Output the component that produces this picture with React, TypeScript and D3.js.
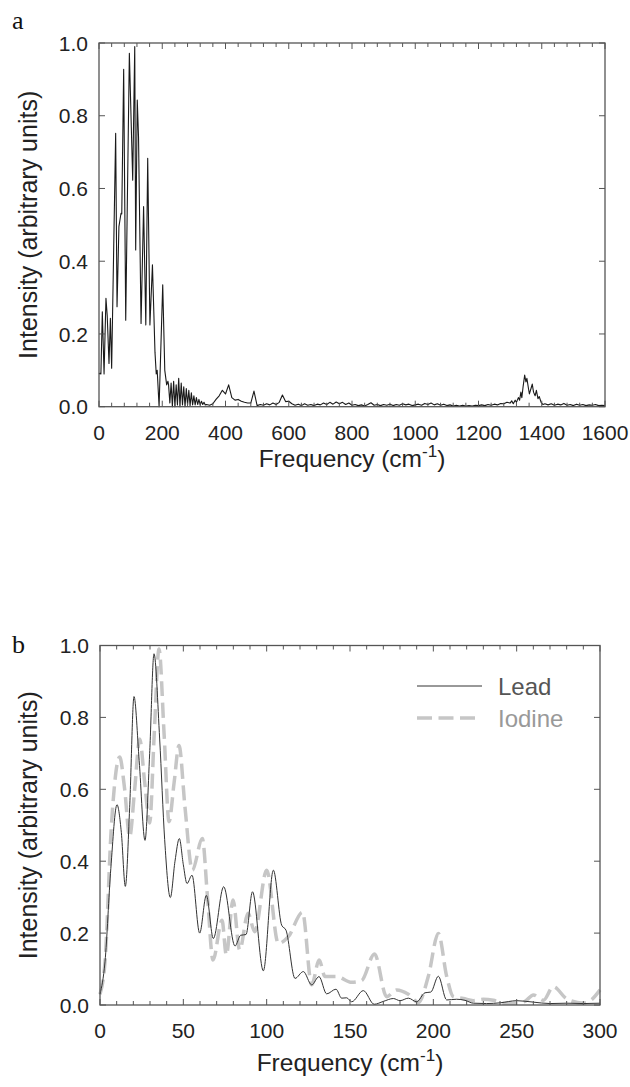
import React from "react";
import * as d3 from "d3";

// ---------- Panel a data (frequency cm-1, intensity) ----------
const specLowA: [number, number][] = [
  [0, 0.09], [3, 0.092], [6, 0.09], [10.5, 0.261], [16, 0.09], [22, 0.298], [26, 0.25],
  [31.6, 0.119], [36, 0.243], [40, 0.106], [52.7, 0.752], [57, 0.275], [63, 0.495],
  [69.6, 0.532], [72, 0.53], [78, 0.928], [84.5, 0.238], [96, 0.972], [106.6, 0.623],
  [113, 0.99], [116, 0.431], [121, 0.843], [125, 0.74], [133, 0.229], [141, 0.55],
  [148, 0.225], [154, 0.683], [161, 0.225], [169, 0.39], [177, 0.15], [181, 0.09],
  [184, 0.1], [190, 0.0], [201.5, 0.335], [208, 0.1], [214, 0.06], [218, 0.07],
];
const rippleStartA = 220;
const rippleStepA = 4;
const rippleA = [
  0.06, 0.01, 0.065, 0.0, 0.07, 0.0, 0.06, 0.005, 0.078, 0.0,
  0.065, 0.005, 0.055, 0.0, 0.05, 0.005, 0.045, 0.003, 0.038, 0.005,
  0.03, 0.005, 0.025, 0.006, 0.02, 0.005, 0.015, 0.006, 0.012, 0.005,
];
const baseStartA = 340;
const baseStepA = 10;
const baselineA = [
  // 340..430
  0.006, 0.004, 0.008, 0.02, 0.03, 0.045, 0.035, 0.06, 0.025, 0.018,
  // 440..530
  0.02, 0.015, 0.012, 0.01, 0.01, 0.043, 0.003, 0.006, 0.004, 0.008,
  // 540..630
  0.005, 0.01, 0.006, 0.012, 0.032, 0.014, 0.015, 0.008, 0.004, 0.007,
  // 640..730
  0.003, 0.008, 0.004, 0.006, 0.003, 0.007, 0.005, 0.01, 0.006, 0.012,
  // 740..830
  0.007, 0.013, 0.008, 0.012, 0.006, 0.01, 0.004, 0.006, 0.003, 0.005,
  // 840..930
  0.002, 0.006, 0.011, 0.004, 0.006, 0.003, 0.006, 0.004, 0.007, 0.003,
  // 940..1030
  0.006, 0.004, 0.008, 0.005, 0.007, 0.003, 0.005, 0.007, 0.004, 0.009,
  // 1040..1130
  0.006, 0.01, 0.005, 0.008, 0.004, 0.007, 0.003, 0.005, 0.002, 0.004,
  // 1140..1230
  0.002, 0.004, 0.002, 0.003, 0.002, 0.004, 0.003, 0.005, 0.003, 0.006,
  // 1240..1290
  0.004, 0.007, 0.005, 0.009, 0.008, 0.012,
];
const peakA: [number, number][] = [
  [1300, 0.01], [1305, 0.016], [1310, 0.008], [1316, 0.018], [1320, 0.012], [1326, 0.025],
  [1330, 0.018], [1334, 0.04], [1337, 0.025], [1341, 0.055], [1346, 0.087], [1350, 0.068],
  [1353, 0.078], [1358, 0.05], [1361, 0.035], [1366, 0.05], [1370, 0.062], [1374, 0.04],
  [1379, 0.03], [1383, 0.045], [1388, 0.022], [1392, 0.028], [1398, 0.012], [1404, 0.006],
  [1410, 0.008],
];
const tailStartA = 1420;
const tailStepA = 10;
const tailA = [
  0.005, 0.008, 0.004, 0.007, 0.005, 0.009, 0.004, 0.006, 0.003, 0.007,
  0.004, 0.006, 0.003, 0.005, 0.004, 0.006, 0.003, 0.004, 0.003,
];

// ---------- Panel b data ----------
const leadB: [number, number][] = [
  [0, 0.03], [3, 0.12], [6.5, 0.38], [10.2, 0.557], [12.8, 0.48], [15.2, 0.33], [17.8, 0.55],
  [20.4, 0.858], [23.5, 0.68], [27, 0.458], [29.8, 0.7], [32.4, 0.977], [35.8, 0.74],
  [38.8, 0.46], [42.2, 0.299], [45, 0.4], [47.6, 0.463], [50, 0.39], [52.2, 0.338],
  [55.2, 0.361], [59.8, 0.2], [63.8, 0.305], [68, 0.185], [74.2, 0.329], [81, 0.164],
  [84.4, 0.194], [87.6, 0.196], [91.5, 0.315], [98, 0.095], [104, 0.375], [109, 0.222],
  [111.6, 0.208], [117, 0.074], [122, 0.093], [127, 0.056], [131.4, 0.079], [136, 0.031],
  [141.6, 0.044], [145, 0.019], [148, 0.02], [151, 0.009], [158, 0.04], [164.5, 0.002],
  [170, 0.01], [176, 0.018], [180, 0.012], [185, 0.019], [190, 0.009], [195, 0.034],
  [198.5, 0.036], [203, 0.08], [208, 0.014], [214, 0.016], [219, 0.013], [224, 0.005],
  [232, 0.004], [240, 0.006], [250, 0.012], [260, 0.008], [270, 0.004], [280, 0.005],
  [290, 0.004], [300, 0.005],
];
const iodineB: [number, number][] = [
  [0, 0.03], [3, 0.12], [6.8, 0.495], [11.8, 0.69], [14.8, 0.6], [17.8, 0.468], [20.8, 0.6],
  [23.8, 0.74], [26.8, 0.62], [29.8, 0.506], [32.5, 0.75], [35.4, 0.99], [38.5, 0.75],
  [41.4, 0.51], [44.5, 0.62], [47.4, 0.722], [51, 0.55], [55.4, 0.375], [61.4, 0.463],
  [64.5, 0.3], [67.8, 0.125], [73.2, 0.236], [75.8, 0.139], [79.8, 0.292], [83.8, 0.153],
  [88.8, 0.255], [92.8, 0.204], [100, 0.375], [107, 0.171], [113, 0.19], [121.5, 0.258],
  [127, 0.056], [131.5, 0.125], [135, 0.079], [142, 0.079], [151, 0.063], [157, 0.068],
  [164.7, 0.142], [172, 0.023], [178, 0.042], [185, 0.03], [191, 0.007], [197, 0.08],
  [203, 0.199], [208, 0.08], [212, 0.023], [218, 0.018], [224, 0.012], [230, 0.016],
  [236, 0.013], [242, 0.005], [250, 0.005], [255, 0.01], [260, 0.028], [266, 0.013],
  [272, 0.051], [280, 0.017], [290, 0.005], [295, 0.015], [300, 0.042],
];

const yTicks = [0, 0.2, 0.4, 0.6, 0.8, 1.0];
const xTicksA = [0, 200, 400, 600, 800, 1000, 1200, 1400, 1600];
const xTicksB = [0, 50, 100, 150, 200, 250, 300];
const legendLabels = ["Lead", "Iodine"];

const FONT = "'Liberation Sans', Arial, Helvetica, sans-serif";
const AXIS_COLOR = "#555";

function buildSpectrumA(): [number, number][] {
  const pts: [number, number][] = [...specLowA];
  rippleA.forEach((v, i) => pts.push([rippleStartA + i * rippleStepA, v]));
  baselineA.forEach((v, i) => pts.push([baseStartA + i * baseStepA, v]));
  peakA.forEach((p) => pts.push(p));
  tailA.forEach((v, i) => pts.push([tailStartA + i * tailStepA, v]));
  return pts;
}

type FrameProps = {
  x: d3.ScaleLinear<number, number>;
  y: d3.ScaleLinear<number, number>;
  xTicks: number[];
  minorStep: number;
  label: string;
  labelY: number;
  titleY: number;
};

function Frame({ x, y, xTicks, minorStep, label, labelY, titleY }: FrameProps) {
  const [x0, x1] = x.range();
  const [y0, y1] = y.range(); // y0 bottom, y1 top
  const [d0, d1] = x.domain();
  const minors = d3.range(d0, d1 + minorStep / 2, minorStep);
  const midY = (y0 + y1) / 2;
  const midX = (x0 + x1) / 2;
  return (
    <g>
      <rect x={x0} y={y1} width={x1 - x0} height={y0 - y1} fill="none" stroke={AXIS_COLOR} strokeWidth={1.3} />
      {minors.map((t, i) => {
        const major = xTicks.some((m) => Math.abs(m - t) < 1e-6);
        const len = major ? 6 : 4;
        return (
          <g key={"mx" + i}>
            <line x1={x(t)} x2={x(t)} y1={y0} y2={y0 - len} stroke={AXIS_COLOR} strokeWidth={1} />
            <line x1={x(t)} x2={x(t)} y1={y1} y2={y1 + len} stroke={AXIS_COLOR} strokeWidth={1} />
          </g>
        );
      })}
      {yTicks.map((t, i) => (
        <g key={"yt" + i}>
          <line x1={x0} x2={x0 + 6} y1={y(t)} y2={y(t)} stroke={AXIS_COLOR} strokeWidth={1} />
          <line x1={x1} x2={x1 - 6} y1={y(t)} y2={y(t)} stroke={AXIS_COLOR} strokeWidth={1} />
          <text x={x0 - 11} y={y(t)} dy="0.36em" textAnchor="end" fontSize={21} fontFamily={FONT} fill="#222">
            {t.toFixed(1)}
          </text>
        </g>
      ))}
      {xTicks.map((t, i) => (
        <text key={"xt" + i} x={x(t)} y={y0 + 33} textAnchor="middle" fontSize={21} fontFamily={FONT} fill="#222">
          {t}
        </text>
      ))}
      <text transform={`translate(37,${midY}) rotate(-90)`} textAnchor="middle" fontSize={25} fontFamily={FONT} fill="#222">
        Intensity (arbitrary units)
      </text>
      <text x={midX} y={titleY} textAnchor="middle" fontSize={24.5} fontFamily={FONT} fill="#222">
        Frequency (cm
        <tspan fontSize={17} dy={-10}>-1</tspan>
        <tspan dy={10}>)</tspan>
      </text>
      <text x={12} y={labelY} fontSize={26} fontFamily="'Liberation Serif', 'Times New Roman', serif" fill="#111">
        {label}
      </text>
    </g>
  );
}

export default function App() {
  const xA = d3.scaleLinear().domain([0, 1600]).range([99, 605]);
  const yA = d3.scaleLinear().domain([0, 1]).range([406.7, 43]);
  const xB = d3.scaleLinear().domain([0, 300]).range([100, 600]);
  const yB = d3.scaleLinear().domain([0, 1]).range([1005, 645.5]);

  const specA = buildSpectrumA();
  const lineA = d3.line<[number, number]>().x((d) => xA(d[0])).y((d) => yA(d[1])).curve(d3.curveLinear);
  const lineB = d3.line<[number, number]>().x((d) => xB(d[0])).y((d) => yB(d[1])).curve(d3.curveMonotoneX);

  const legX0 = 417;
  const legX1 = 482;
  const legY = [686, 718];

  return (
    <svg width={630} height={1087} style={{ position: "absolute", left: 0, top: 0, background: "#fff" }}>
      <rect x={0} y={0} width={630} height={1087} fill="#fff" />
      {/* Panel a */}
      <path d={lineA(specA) || ""} fill="none" stroke="#1a1a1a" strokeWidth={1.1} strokeLinejoin="round" />
      <Frame x={xA} y={yA} xTicks={xTicksA} minorStep={40} label="a" labelY={28.5} titleY={467} />

      {/* Panel b */}
      <path d={lineB(iodineB) || ""} fill="none" stroke="#c6c6c6" strokeWidth={3.5} strokeDasharray="15,6.5" />
      <path d={lineB(leadB) || ""} fill="none" stroke="#333" strokeWidth={1} />
      <Frame x={xB} y={yB} xTicks={xTicksB} minorStep={10} label="b" labelY={653} titleY={1071} />

      {/* Legend */}
      <line x1={legX0} x2={legX1} y1={legY[0]} y2={legY[0]} stroke="#333" strokeWidth={1} />
      <text x={498} y={legY[0] + 9} fontSize={24} fontFamily={FONT} fill="#555">
        {legendLabels[0]}
      </text>
      <line x1={legX0} x2={legX1 - 6} y1={legY[1]} y2={legY[1]} stroke="#c6c6c6" strokeWidth={3.5} strokeDasharray="15,6.5" />
      <text x={498} y={legY[1] + 9} fontSize={24} fontFamily={FONT} fill="#999">
        {legendLabels[1]}
      </text>
    </svg>
  );
}
